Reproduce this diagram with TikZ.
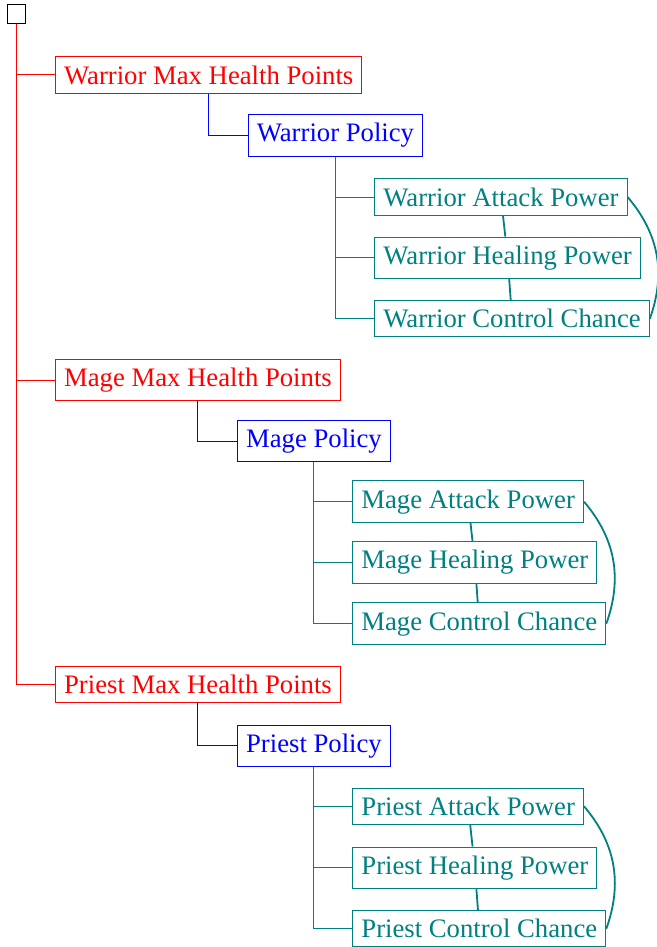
\documentclass[tikz,border=0pt]{standalone}
\usepackage{fontspec}
\setmainfont{Liberation Serif}
\begin{document}
\begin{tikzpicture}[x=1pt,y=-1pt,
  box/.style={draw, line width=1pt, inner sep=8.6pt, font=\fontsize{26.7}{30}\selectfont, anchor=west},
  lvla/.style={box, red},
  lvlb/.style={box, blue},
  lvlc/.style={box, teal},
  treeedge/.style={line width=1pt},
  link/.style={teal, line width=1.8pt}]
\useasboundingbox (0,0) rectangle (656,947);
\node[draw, line width=1pt, minimum size=18.4pt, inner sep=0pt] (root) at (16.5,14) {};
% Warrior
\node[lvla] (wmax) at (55,75) {Warrior Max Health Points};
\node[lvlb] (wpol) at (247.7,135.5) {Warrior Policy};
\node[lvlc] (watt) at (374.3,197) {Warrior Attack Power};
\node[lvlc] (whea) at (374.3,257.8) {Warrior Healing Power};
\node[lvlc] (wctl) at (374.3,318.7) {Warrior Control Chance};
% Mage
\node[lvla] (mmax) at (55,380) {Mage Max Health Points};
\node[lvlb] (mpol) at (237,441) {Mage Policy};
\node[lvlc] (matt) at (352.3,501.7) {Mage Attack Power};
\node[lvlc] (mhea) at (352.3,562.5) {Mage Healing Power};
\node[lvlc] (mctl) at (352.3,623.7) {Mage Control Chance};
% Priest
\node[lvla] (pmax) at (55,684) {Priest Max Health Points};
\node[lvlb] (ppol) at (237,745.8) {Priest Policy};
\node[lvlc] (patt) at (352.3,806.3) {Priest Attack Power};
\node[lvlc] (phea) at (352.3,867.8) {Priest Healing Power};
\node[lvlc] (pctl) at (352.3,928.7) {Priest Control Chance};
% tree edges
\draw[treeedge, red] (root.south) |- (wmax.west);
\draw[treeedge, red] (root.south) |- (mmax.west);
\draw[treeedge, red] (root.south) |- (pmax.west);
\draw[treeedge, blue] (wmax.south) |- (wpol.west);
\draw[treeedge, blue] (mmax.south) |- (mpol.west);
\draw[treeedge, blue] (pmax.south) |- (ppol.west);
\foreach \p/\c in {wpol/watt, wpol/whea, wpol/wctl, mpol/matt, mpol/mhea, mpol/mctl, ppol/patt, ppol/phea, ppol/pctl}
  \draw[treeedge, teal] (\p.south) |- (\c.west);
% links
\draw[link] (watt) -- (whea);
\draw[link] (whea) -- (wctl);
\draw[link] (watt.east) to[bend left=30] (wctl.east);
\draw[link] (matt) -- (mhea);
\draw[link] (mhea) -- (mctl);
\draw[link] (matt.east) to[bend left=30] (mctl.east);
\draw[link] (patt) -- (phea);
\draw[link] (phea) -- (pctl);
\draw[link] (patt.east) to[bend left=30] (pctl.east);
\end{tikzpicture}
\end{document}
